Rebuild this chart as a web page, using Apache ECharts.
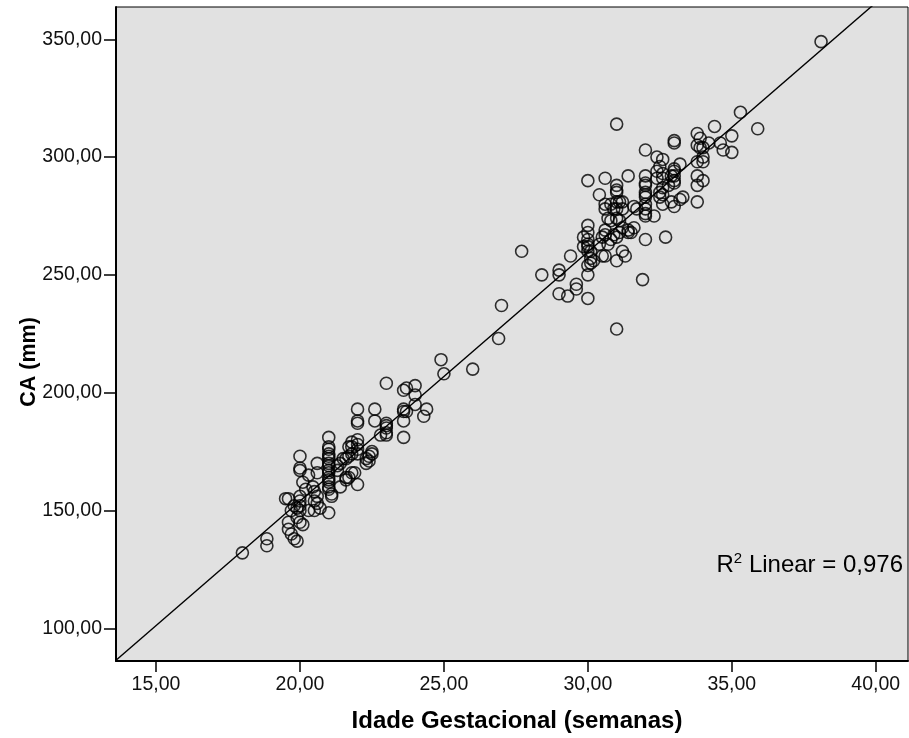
<!DOCTYPE html>
<html>
<head>
<meta charset="utf-8">
<script src="https://cdn.jsdelivr.net/npm/echarts@6/dist/echarts.min.js"></script>
<style>
html,body{margin:0;padding:0;background:#fff;}
#chart{width:909px;height:738px;}
</style>
</head>
<body>
<div id="chart"></div>
<script>
// Gestational age (weeks) values, each with its list of abdominal circumference (mm) readings
const ageGroups = [18.0, 18.85, 19.5, 19.6, 19.7, 19.8, 19.9, 20.0, 20.1, 20.2, 20.3, 20.45, 20.5, 20.6, 20.7,
  21.0, 21.1, 21.3, 21.4, 21.5, 21.6, 21.7, 21.8, 21.9, 22.0, 22.3, 22.4, 22.5, 22.6, 22.8, 23.0, 23.6, 23.7,
  24.0, 24.3, 24.4, 24.9, 25.0, 26.0, 26.9, 27.0, 27.7, 28.4, 29.0, 29.3, 29.4, 29.6, 29.85, 30.0, 30.1, 30.2,
  30.4, 30.5, 30.6, 30.7, 30.8, 30.9, 31.0, 31.1, 31.2, 31.3, 31.4, 31.5, 31.6, 31.7, 31.9, 32.0, 32.3, 32.4,
  32.5, 32.6, 32.7, 32.8, 32.9, 33.0, 33.2, 33.3, 33.8, 33.9, 34.0, 34.2, 34.4, 34.6, 34.7, 35.0, 35.3, 35.9, 38.1];
const caGroups = [
  [132], [138,135], [155], [155,145,142], [150,140], [152,138], [137,151,147],
  [173,168,167,156,154,152,150,145], [144,162], [159], [165,150], [160], [158,154,150], [170,166,156,153], [151],
  [181,177,176,174,173,172,170,169,167,166,164,163,162,160,159,149], [157,156], [169,167], [170,160], [172],
  [172,164,163], [173,177,164], [174,179,166,177], [166],
  [193,188,187,180,178,176,174,161], [172,170], [173,171], [175,174], [193,188], [182],
  [204,187,186,185,183,182], [201,193,192,188,181], [202,192],
  [203,199,195], [190], [193], [214], [208], [210], [223], [237], [260], [250],
  [252,250,242], [241], [258], [246,244], [266,262],
  [290,271,268,265,263,262,260,254,250,240], [260,257,255], [256],
  [284,263], [266,258], [291,280,278,269,267,258], [274,263], [280,273,265], [278,267],
  [314,288,286,285,281,278,274,266,256,227], [281,273,268], [281,278,270,260], [258], [292,269,268], [268],
  [279,270], [278], [248],
  [303,292,289,288,285,284,283,280,278,276,275,265], [275], [300,294,291],
  [296,285,283], [299,293,291,287,284,280], [266], [288], [292,281], [307,306,295,294,292,290,289,279],
  [297,282], [283], [310,305,298,292,288,281], [308,304], [304,300,298,290], [306], [313], [306], [303],
  [309,302], [319], [312], [349]
];
const xTicks = [15, 20, 25, 30, 35, 40];
const yTicks = [100, 150, 200, 250, 300, 350];
const xRange = [13.61, 41.12];
const yRange = [86.1, 363.7];
// linear fit
const fitIntercept = -57.5;
const fitSlope = 10.575;
const r2Text = '0,976';

const points = [];
ageGroups.forEach((a, i) => caGroups[i].forEach(v => points.push([a, v])));
const fitLine = [xRange[0], xRange[1]].map(x => [x, fitIntercept + fitSlope * x]);

const fmt = v => v.toFixed(2).replace('.', ',');
const FONT = '"Liberation Sans", Arial, sans-serif';

const chart = echarts.init(document.getElementById('chart'), null, {renderer: 'canvas'});
chart.setOption({
  animation: false,
  backgroundColor: '#ffffff',
  grid: {left: 116, top: 7, right: 1, bottom: 77, show: true, backgroundColor: '#e1e1e1', borderColor: '#000', borderWidth: 1},
  xAxis: {
    type: 'value', min: xRange[0], max: xRange[1],
    axisLine: {show: true, onZero: false, lineStyle: {color: '#000', width: 2}},
    axisTick: {show: true, customValues: xTicks, length: 11, lineStyle: {color: '#000', width: 1.5}},
    axisLabel: {customValues: xTicks, formatter: fmt, margin: 14, color: '#111', fontSize: 19.5, fontFamily: FONT},
    splitLine: {show: false}
  },
  yAxis: {
    type: 'value', min: yRange[0], max: yRange[1],
    axisLine: {show: true, onZero: false, lineStyle: {color: '#000', width: 2}},
    axisTick: {show: true, customValues: yTicks, length: 12, lineStyle: {color: '#000', width: 1.5}},
    axisLabel: {customValues: yTicks, formatter: fmt, margin: 14, color: '#111', fontSize: 19.5, fontFamily: FONT},
    splitLine: {show: false}
  },
  graphic: [
    {type: 'text', x: 517, y: 721, style: {text: 'Idade Gestacional (semanas)', font: 'bold 24px ' + FONT, fill: '#000', textAlign: 'center', textVerticalAlign: 'middle'}},
    {type: 'text', x: 29, y: 362, rotation: Math.PI / 2, style: {text: 'CA (mm)', font: 'bold 21.5px ' + FONT, fill: '#000', textAlign: 'center', textVerticalAlign: 'middle'}},
    {type: 'text', x: 903, y: 565, z: 100, style: {
      text: '{r|R}{s|2}{r| Linear = ' + r2Text + '}', textAlign: 'right', textVerticalAlign: 'middle', fill: '#000',
      rich: {
        r: {fontSize: 24, fontFamily: FONT, fill: '#000', lineHeight: 27},
        s: {fontSize: 15, fontFamily: FONT, fill: '#000', lineHeight: 27, padding: [0, 0, 13, 0]}
      }
    }}
  ],
  series: [
    {
      type: 'scatter', data: points, symbol: 'circle', symbolSize: 12,
      itemStyle: {color: 'rgba(0,0,0,0)', borderColor: '#000', borderWidth: 1.6},
      z: 3
    },
    {
      type: 'line', data: fitLine, symbol: 'none', clip: true,
      lineStyle: {color: '#000', width: 1.4}, z: 2
    }
  ]
});
</script>
</body>
</html>
